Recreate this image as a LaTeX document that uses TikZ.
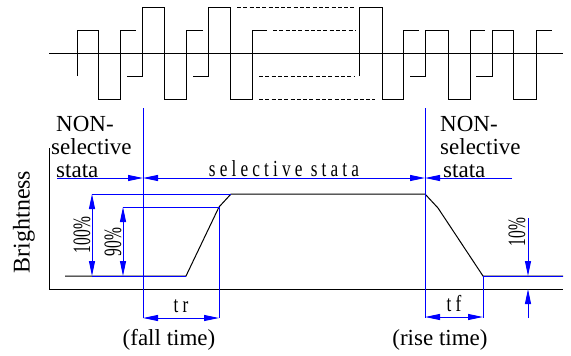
\documentclass[tikz,border=0pt]{standalone}
\usepackage{fontspec}
\setmainfont{Liberation Serif}
\newfontfamily\timesfont{Liberation Serif}
\newfontfamily\narrowfont[FakeStretch=0.62]{Liberation Serif}
\newfontfamily\cadfont[FakeStretch=0.75,LetterSpace=18]{Liberation Serif}
\usetikzlibrary{arrows.meta}
\definecolor{dimblue}{RGB}{0,0,255}
\tikzset{
  wave/.style={black, line width=1pt},
  dashwave/.style={black, line width=1pt, dash pattern=on 4pt off 2.3pt},
  dimline/.style={dimblue, line width=1pt},
  dimarrow/.style={dimblue, line width=1pt, arrows={-Triangle[length=15pt,width=6pt]}},
  dimarrows/.style={dimblue, line width=1pt, arrows={Triangle[length=15pt,width=6pt]-Triangle[length=15pt,width=6pt]}},
  bigtext/.style={font=\timesfont\fontsize{23}{23}\selectfont, inner sep=0pt, align=left},
  pcttext/.style={font=\narrowfont\fontsize{25}{25}\selectfont, inner sep=0pt, rotate=90},
  cadtext/.style={font=\cadfont\fontsize{23}{23}\selectfont, inner sep=0pt},
}
\begin{document}
\begin{tikzpicture}[x=1pt,y=-1pt]
\useasboundingbox (0,0) rectangle (571,356);
% ---------- top waveform ----------
\draw[wave] (49,53) -- (563,53);
\draw[wave] (77,76)--(77,30)--(98,30)--(98,99)--(120,99)--(120,30)--(136,30);
\draw[wave] (127,76)--(142,76)--(142,7)--(164,7)--(164,99)--(186,99)--(186,30)--(203,30);
\draw[wave] (193,76)--(208,76)--(208,7)--(230,7)--(230,99)--(252,99)--(252,30)--(267,30);
\draw[dashwave] (237,7)--(355,7);
\draw[dashwave] (273,30)--(355,30);
\draw[dashwave] (259,76)--(355,76);
\draw[dashwave] (259,99)--(375,99);
\draw[wave] (359,76)--(359,7)--(382,7)--(382,99)--(403,99)--(403,30)--(419,30);
\draw[wave] (410,76)--(425,76)--(425,30)--(448,30)--(448,99)--(470,99)--(470,30)--(485,30);
\draw[wave] (476,76)--(492,76)--(492,30)--(513,30)--(513,99)--(536,99)--(536,30)--(552,30);
% ---------- axes ----------
\coordinate (ytop) at (49,148);
\coordinate (orig) at (49,289);
\coordinate (xend) at (563,289);
\draw[wave] (ytop) -- (orig) -- (xend);
\node[font=\timesfont\fontsize{24}{24}\selectfont, inner sep=0pt, rotate=90] (bright) at (24,222) {Brightness};
% ---------- brightness curve ----------
\coordinate (b0) at (65,276);
\coordinate (b1) at (186,276);
\coordinate (b2) at (219,207);
\coordinate (b3) at (231,194);
\coordinate (b4) at (425,194);
\coordinate (b5) at (438,208);
\coordinate (b6) at (483,276);
\coordinate (b7) at (563,276);
\draw[wave] (b0)--(b1)--(b2)--(b3)--(b4)--(b5)--(b6)--(b7);
% ---------- blue dimension lines ----------
\coordinate (L1t) at (143,108);
\coordinate (L1b) at (143,318);
\coordinate (L2t) at (425,108);
\coordinate (L2b) at (425,318);
\draw[dimline] (L1t) -- (L1b);
\draw[dimline] (L2t) -- (L2b);
% state arrows
\coordinate (s0) at (57,178);
\coordinate (s1) at (143,178);
\coordinate (s2) at (425,178);
\coordinate (s3) at (512,178);
\draw[dimarrow] (s0) -- (s1);
\draw[dimarrows] (s1) -- (s2);
\draw[dimarrow] (s3) -- (s2);
% reference lines
\draw[dimline] (92,194) -- (b3);
\draw[dimline] (123,207) -- (b2);
\draw[dimline] (92,276) -- (b1);
\draw[dimline] (b6) -- (b7);
% 100% and 90%
\draw[dimarrows] (92,194) -- (92,276);
\draw[dimarrows] (123,207) -- (123,276);
% tr
\coordinate (tr0) at (143,318);
\coordinate (tr1) at (219,318);
\draw[dimline] (b2) -- (tr1);
\draw[dimarrows] (tr0) -- (tr1);
% tf
\coordinate (tf0) at (425,317);
\coordinate (tf1) at (483,317);
\draw[dimline] (b6) -- (483,318);
\draw[dimarrows] (tf0) -- (tf1);
% 10%
\coordinate (p10a) at (528,218);
\coordinate (p10b) at (528,276);
\coordinate (p10c) at (528,318);
\coordinate (p10d) at (528,289);
\draw[dimarrow] (p10a) -- (p10b);
\draw[dimarrow] (p10c) -- (p10d);
% ---------- texts ----------
\node[bigtext, anchor=south west] (nonl) at (51,178) {\hspace*{5pt}NON-\\selective\\\hspace*{5pt}stata};
\node[bigtext, anchor=south west] (nonr) at (440,178) {NON-\\selective\\\hspace*{3pt}stata};
\node[cadtext, anchor=base] (sel) at (284,176) {selective stata};
\node[pcttext] (p100) at (82,235) {100\%};
\node[pcttext] (p90) at (113,242) {90\%};
\node[pcttext] (p10) at (517,232) {10\%};
\node[cadtext, anchor=base] (trl) at (181,312) {tr};
\node[cadtext, anchor=base] (tfl) at (454,311) {tf};
\node[font=\timesfont\fontsize{23}{23}\selectfont, inner sep=0pt, anchor=base] (fall) at (169,345) {(fall time)};
\node[font=\timesfont\fontsize{23}{23}\selectfont, inner sep=0pt, anchor=base] (rise) at (440,345) {(rise time)};
\end{tikzpicture}
\end{document}
